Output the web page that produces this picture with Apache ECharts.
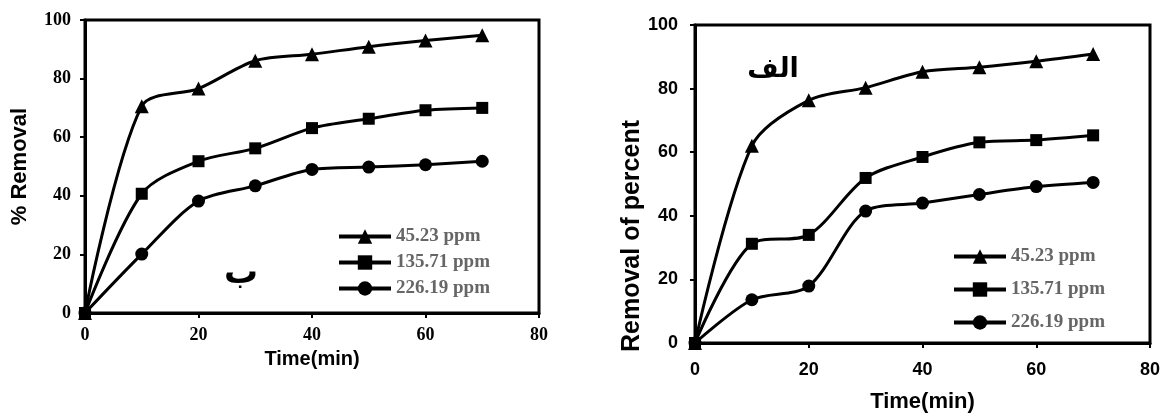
<!DOCTYPE html>
<html>
<head>
<meta charset="utf-8">
<script src="https://cdn.jsdelivr.net/npm/echarts@6/dist/echarts.min.js"></script>
<style>
  html, body { margin: 0; padding: 0; background: #fff; }
  #left { position: absolute; left: 0; top: 0; width: 600px; height: 418px; }
  #right { position: absolute; left: 600px; top: 0; width: 566px; height: 418px; }
</style>
</head>
<body>
<div id="left"></div>
<div id="right"></div>
<script>
// time axis (min)
const times = [0, 10, 20, 30, 40, 50, 60, 70];
const seriesNames = ['45.23 ppm', '135.71 ppm', '226.19 ppm'];
const symbols = ['triangle', 'rect', 'circle'];

// chart "ب" (left)
const leftHigh = [0, 70.6, 76.6, 86.1, 88.3, 90.9, 93.0, 94.8];
const leftMid = [0, 40.7, 51.8, 56.2, 63.1, 66.3, 69.2, 70.0];
const leftLow = [0, 20.1, 38.2, 43.4, 49.0, 49.8, 50.6, 51.8];

// chart "الف" (right)
const rightHigh = [0, 62.0, 76.3, 80.3, 85.3, 86.7, 88.6, 90.9];
const rightMid = [0, 31.2, 34.0, 51.9, 58.5, 63.1, 63.8, 65.3];
const rightLow = [0, 13.6, 17.9, 41.5, 44.0, 46.7, 49.2, 50.5];

function pairs(values) {
  return times.map((t, i) => [t, values[i]]);
}

function makeSeries(lists) {
  return lists.map((vals, i) => ({
    name: seriesNames[i],
    type: 'line',
    smooth: 0.3,
    data: pairs(vals),
    symbol: symbols[i],
    symbolSize: [14, 12, 13][i],
    lineStyle: { color: '#000', width: 3 },
    itemStyle: { color: '#000' }
  }));
}

function buildOption(cfg) {
  const labelStyle = {
    color: '#000',
    fontFamily: cfg.tickFont,
    fontWeight: 'bold',
    fontSize: cfg.tickSize
  };
  const nameStyle = {
    color: '#000',
    fontFamily: 'Liberation Sans',
    fontWeight: 'bold',
    fontSize: cfg.nameSize
  };
  return {
    animation: false,
    grid: {
      left: cfg.grid[0], top: cfg.grid[1], width: cfg.grid[2], height: cfg.grid[3],
      show: true, borderColor: '#000', borderWidth: 3, backgroundColor: 'transparent'
    },
    xAxis: {
      type: 'value', min: 0, max: 80, interval: 20,
      name: 'Time(min)', nameLocation: 'middle', nameGap: cfg.xNameGap,
      nameTextStyle: nameStyle,
      axisLine: { lineStyle: { color: '#000', width: 3 } },
      axisTick: { show: true, length: 5, lineStyle: { color: '#000', width: 2 } },
      axisLabel: Object.assign({ margin: cfg.xMargin }, labelStyle),
      splitLine: { show: false }
    },
    yAxis: {
      type: 'value', min: 0, max: 100, interval: 20,
      name: cfg.yName, nameLocation: 'middle', nameGap: cfg.yNameGap,
      nameTextStyle: Object.assign({}, nameStyle, { fontSize: cfg.yNameSize }),
      axisLine: { show: true, lineStyle: { color: '#000', width: 3 } },
      axisTick: { show: true, length: 5, lineStyle: { color: '#000', width: 2 } },
      axisLabel: Object.assign({ margin: cfg.yMargin }, labelStyle),
      splitLine: { show: false }
    },
    legend: {
      data: seriesNames,
      orient: 'vertical',
      left: cfg.legendPos[0], top: cfg.legendPos[1],
      itemWidth: 52, itemHeight: 18, itemGap: cfg.legendGap,
      lineStyle: { width: 4, color: '#000' },
      itemStyle: { color: '#000' },
      textStyle: {
        color: '#666', fontFamily: 'Liberation Serif', fontWeight: 'bold',
        fontSize: 19, lineHeight: 18
      },
      selectedMode: false
    },
    graphic: cfg.graphic,
    series: makeSeries(cfg.lists)
  };
}

const leftChart = echarts.init(document.getElementById('left'));
leftChart.setOption(buildOption({
  grid: [85, 20, 454, 293],
  tickFont: 'Liberation Serif', tickSize: 18, nameSize: 20, yNameSize: 22,
  xMargin: 13, yMargin: 14, xNameGap: 36,
  yName: '% Removal', yNameGap: 54,
  legendPos: [332, 222], legendGap: 7,
  lists: [leftHigh, leftMid, leftLow],
  graphic: [{
    type: 'text', x: 241, y: 274,
    style: {
      text: 'ب', fontFamily: 'DejaVu Sans', fontWeight: 'bold', fontSize: 34, fill: '#000',
      align: 'center', verticalAlign: 'middle'
    }
  }]
}));

const rightChart = echarts.init(document.getElementById('right'));
rightChart.setOption(buildOption({
  grid: [95, 25, 455, 320],
  tickFont: 'Liberation Sans', tickSize: 18, nameSize: 22, yNameSize: 22,
  xMargin: 18, yMargin: 17, xNameGap: 48,
  yName: '', yNameGap: 50,
  legendPos: [347, 242], legendGap: 14,
  lists: [rightHigh, rightMid, rightLow],
  graphic: [{
    type: 'text', x: 173, y: 70,
    style: {
      text: 'الف', fontFamily: 'DejaVu Sans', fontWeight: 'bold', fontSize: 27, fill: '#000',
      align: 'center', verticalAlign: 'middle'
    }
  }, {
    type: 'text', x: 32, y: 236, rotation: Math.PI / 2,
    style: {
      text: 'Removal of percent', fontFamily: 'Liberation Sans', fontWeight: 'bold',
      fontSize: 25, fill: '#000', align: 'center', verticalAlign: 'middle'
    }
  }]
}));
</script>
</body>
</html>
